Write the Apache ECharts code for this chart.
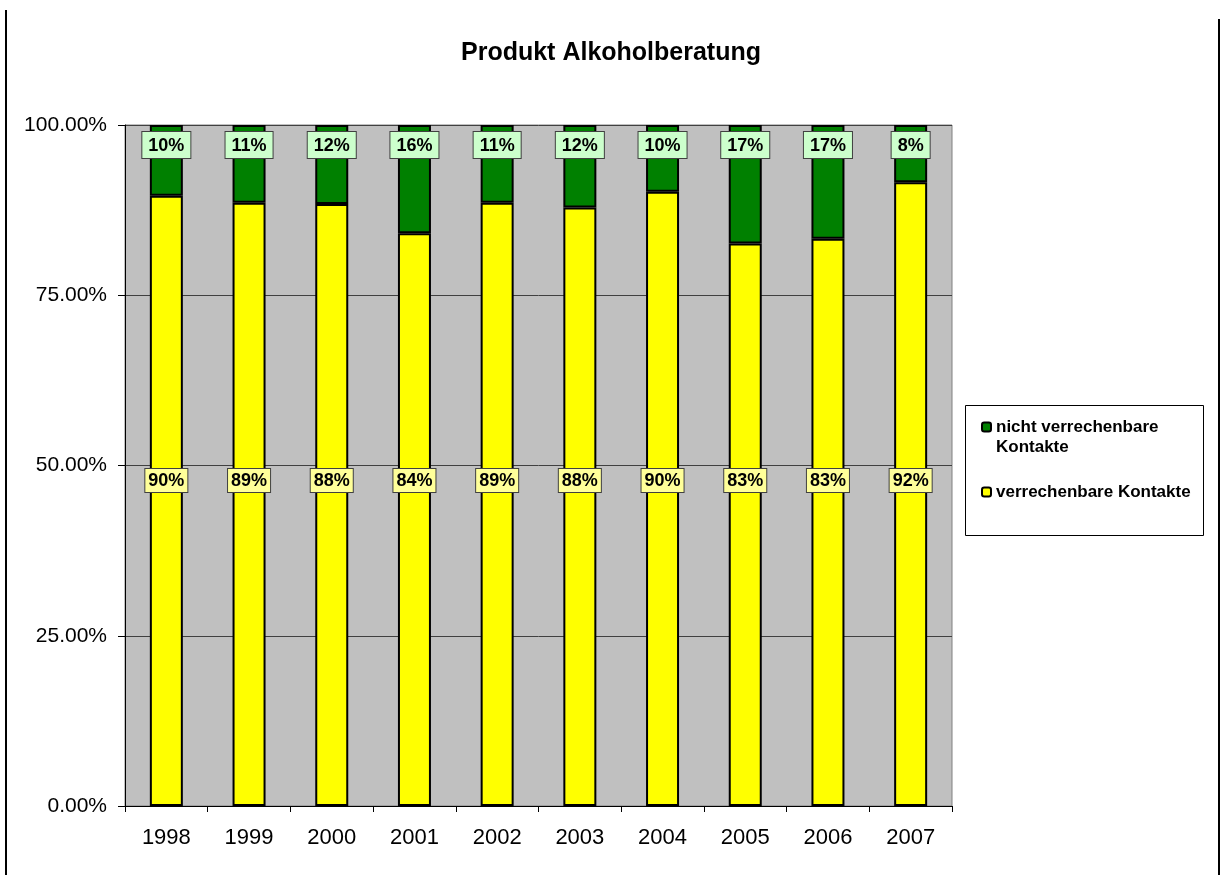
<!DOCTYPE html>
<html>
<head>
<meta charset="utf-8">
<script src="https://cdn.jsdelivr.net/npm/echarts@6/dist/echarts.min.js"></script>
<style>
  html, body { margin: 0; padding: 0; background: #fff; }
  #chart { width: 1224px; height: 875px; }
</style>
</head>
<body>
<div id="chart"></div>
<script>
// Jahre
var years = ['1998', '1999', '2000', '2001', '2002', '2003', '2004', '2005', '2006', '2007'];
// Anteile in Prozent
var verrechenbar = [89.6, 88.6, 88.4, 84.1, 88.6, 87.9, 90.2, 82.6, 83.3, 91.6];
var nichtVerrechenbar = [10.4, 11.4, 11.6, 15.9, 11.4, 12.1, 9.8, 17.4, 16.7, 8.4];
var yTicks = [0, 25, 50, 75, 100];

var font = 'Arial, "Liberation Sans", sans-serif';

var chart = echarts.init(document.getElementById('chart'));

var pct = function (p) { return Math.round(p.value) + '%'; };

var option = {
    backgroundColor: '#fff',
    animation: false,
    title: {
        text: 'Produkt Alkoholberatung',
        left: 456,
        top: 36,
        textStyle: { fontFamily: font, fontSize: 25, fontWeight: 'bold', color: '#000' }
    },
    grid: {
        left: 125, right: 272, top: 125, bottom: 69,
        show: true,
        backgroundColor: '#C0C0C0',
        borderColor: '#808080',
        borderWidth: 1
    },
    legend: [{
        data: ['nicht verrechenbare Kontakte'],
        orient: 'vertical',
        left: 981,
        top: 397,
        padding: 0,
        itemWidth: 9,
        itemHeight: 9,
        // leere erste Zeile, damit das Symbol neben der ersten Textzeile steht
        formatter: function () { return '\nnicht verrechenbare\nKontakte'; },
        textStyle: { fontFamily: font, fontSize: 17, fontWeight: 'bold', color: '#000', lineHeight: 20 }
    }, {
        data: ['verrechenbare Kontakte'],
        orient: 'vertical',
        left: 981,
        top: 482,
        padding: 0,
        itemWidth: 9,
        itemHeight: 9,
        textStyle: { fontFamily: font, fontSize: 17, fontWeight: 'bold', color: '#000', lineHeight: 20 }
    }],
    xAxis: {
        type: 'category',
        data: years,
        axisLine: { lineStyle: { color: '#000', width: 1 } },
        axisTick: { show: true, length: 6, lineStyle: { color: '#000' } },
        axisLabel: { fontFamily: font, fontSize: 22, color: '#000', margin: 21 }
    },
    yAxis: {
        type: 'value',
        min: yTicks[0],
        max: yTicks[yTicks.length - 1],
        interval: 25,
        axisLine: { show: true, lineStyle: { color: '#000', width: 1 } },
        axisTick: { show: true, length: 7, lineStyle: { color: '#000' } },
        axisLabel: {
            fontFamily: font, fontSize: 21, color: '#000', margin: 18,
            formatter: function (v) { return v.toFixed(2) + '%'; }
        },
        splitLine: { lineStyle: { color: '#404040', width: 1 } }
    },
    series: [{
        name: 'verrechenbare Kontakte',
        type: 'bar',
        stack: 'total',
        barWidth: 33,
        data: verrechenbar,
        itemStyle: { color: '#FFFF00', borderColor: '#000', borderWidth: 2 },
        label: {
            show: true,
            position: 'insideBottom',
            distance: 314,
            formatter: pct,
            fontFamily: font, fontSize: 18, fontWeight: 'bold', color: '#000',
            backgroundColor: '#FFFF99',
            borderColor: '#404040',
            borderWidth: 1,
            padding: [3, 3, 2, 3]
        }
    }, {
        name: 'nicht verrechenbare Kontakte',
        type: 'bar',
        stack: 'total',
        barWidth: 33,
        data: nichtVerrechenbar,
        itemStyle: { color: '#008000', borderColor: '#000', borderWidth: 2 },
        label: {
            show: true,
            position: 'insideTop',
            distance: 7,
            formatter: pct,
            fontFamily: font, fontSize: 18, fontWeight: 'bold', color: '#000',
            backgroundColor: '#CCFFCC',
            borderColor: '#404040',
            borderWidth: 1,
            padding: [5, 6, 3, 6]
        }
    }],
    graphic: [
        { type: 'line', z: 0, shape: { x1: 6, y1: 10, x2: 6, y2: 875 }, style: { stroke: '#000', lineWidth: 2 } },
        { type: 'line', z: 0, shape: { x1: 1219, y1: 19, x2: 1219, y2: 875 }, style: { stroke: '#000', lineWidth: 2 } },
        { type: 'rect', z: 0, shape: { x: 965.5, y: 405.5, width: 238, height: 130 }, style: { fill: '#fff', stroke: '#000', lineWidth: 1 } }
    ]
};

chart.setOption(option);
</script>
</body>
</html>
